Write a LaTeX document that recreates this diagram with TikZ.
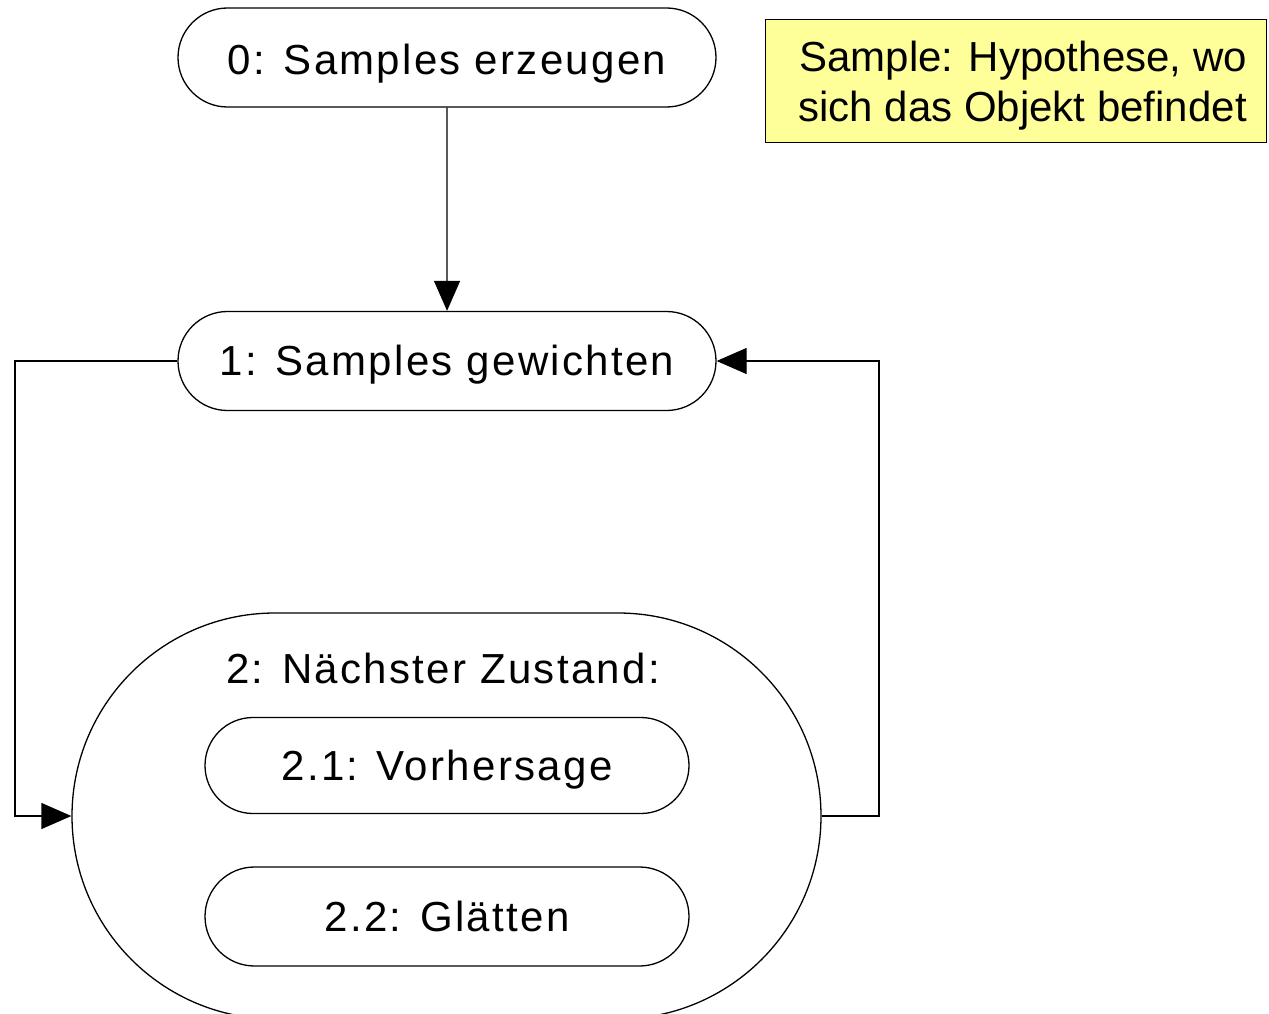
\documentclass[tikz,border=0pt]{standalone}
\usepackage{fontspec}
\setmainfont{Liberation Sans}
\newfontfamily\stepfont[LetterSpace=5.5]{Liberation Sans}
\usetikzlibrary{shapes.misc,arrows.meta}
\definecolor{noteyellow}{RGB}{255,255,153}
\tikzset{
  stadium/.style={rounded rectangle, draw, line width=1.3pt, inner sep=0pt,
    text height=38pt, text depth=3pt,
    font=\stepfont\fontsize{42}{50}\selectfont},
  centred/.style={text height=38pt, text depth=9pt},
  flow/.style={line width=1.3pt, -{Triangle[length=30pt,width=26pt]}},
  notebox/.style={rectangle, draw, line width=1pt, fill=noteyellow, inner sep=0pt,
    minimum width=501pt, minimum height=123pt},
  notetext/.style={inner sep=0pt, align=right, font=\fontsize{42}{50}\selectfont}
}
\begin{document}
\begin{tikzpicture}[x=1pt,y=-1pt]
\useasboundingbox (0,0) rectangle (1269,1014);
% process steps
\node[stadium, minimum width=538pt, minimum height=99pt] (gen) at (447,57.5) {0: Samples erzeugen};
\node[stadium, centred, minimum width=538pt, minimum height=99pt] (weight) at (447,361) {1: Samples gewichten};
% compound state with its two sub-steps
\node[stadium, minimum width=749pt, minimum height=406pt] (state) at (446.5,816) {};
\node[font=\stepfont\fontsize{42}{50}\selectfont] (statelabel) at (443,668) {2: Nächster Zustand:};
\node[stadium, centred, minimum width=484pt, minimum height=96pt] (predict) at (447,765.5) {2.1: Vorhersage};
\node[stadium, centred, minimum width=484pt, minimum height=99pt] (smooth) at (447,916.5) {2.2: Glätten};
% explanatory note
\node[notebox] (hint) at (1015.5,81.5) {};
\node[notetext, anchor=east] (hinttext) at (1247,86) {Sample: Hypothese, wo\\sich das Objekt befindet};
% rails for the loop connectors
\coordinate (leftrail) at (15,0);
\coordinate (rightrail) at (879,0);
\draw[flow] (gen) -- (weight);
\draw[flow] (weight.west) -| (leftrail |- state.west) -- (state.west);
\draw[flow] (state.east) -| (rightrail |- weight.east) -- (weight.east);
\end{tikzpicture}
\end{document}
